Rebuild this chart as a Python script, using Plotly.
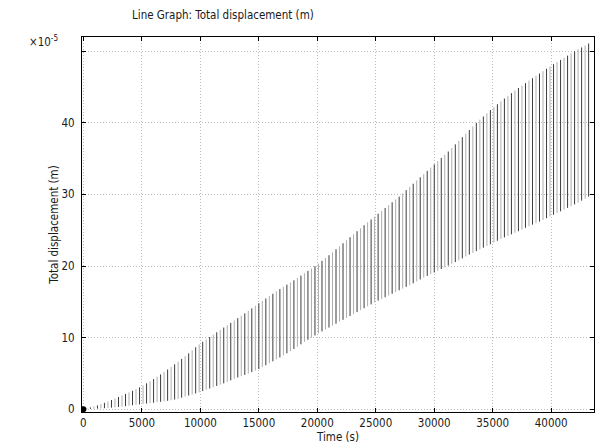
import plotly.graph_objects as go

# Sample times (s)
time_s = list(range(0, 43201, 300))

# Upper and lower envelope of total displacement at each sample (x1e-5 m)
upper_e5 = [
    0.0, 0.12, 0.24, 0.36, 0.52, 0.7, 0.88, 1.07, 1.28, 1.49,
    1.7, 1.91, 2.12, 2.33, 2.56, 2.8, 3.04, 3.3, 3.6, 3.9,
    4.2, 4.53, 4.86, 5.19, 5.54, 5.9, 6.26, 6.63, 7.02, 7.41,
    7.8, 8.22, 8.64, 9.06, 9.42, 9.75, 10.08, 10.41, 10.74, 11.07,
    11.4, 11.73, 12.06, 12.39, 12.72, 13.05, 13.38, 13.72, 14.08, 14.44,
    14.8, 15.13, 15.46, 15.79, 16.12, 16.45, 16.78, 17.1, 17.4, 17.7,
    18.0, 18.33, 18.66, 18.99, 19.32, 19.65, 19.98, 20.33, 20.72, 21.11,
    21.5, 21.92, 22.34, 22.76, 23.18, 23.6, 24.02, 24.44, 24.86, 25.28,
    25.7, 26.1, 26.5, 26.9, 27.3, 27.7, 28.1, 28.5, 28.9, 29.3,
    29.7, 30.15, 30.6, 31.05, 31.5, 31.95, 32.4, 32.85, 33.3, 33.75,
    34.2, 34.65, 35.1, 35.55, 36.0, 36.5, 37.0, 37.5, 38.0, 38.5,
    39.0, 39.5, 40.0, 40.45, 40.9, 41.35, 41.8, 42.2, 42.6, 43.0,
    43.4, 43.78, 44.16, 44.52, 44.88, 45.22, 45.56, 45.9, 46.24, 46.57,
    46.9, 47.23, 47.56, 47.89, 48.2, 48.5, 48.8, 49.1, 49.4, 49.7,
    50.0, 50.27, 50.54, 50.81, 51.1,
]
lower_e5 = [
    0.0, 0.015, 0.03, 0.045, 0.07, 0.1, 0.13, 0.165, 0.21, 0.255,
    0.3, 0.36, 0.42, 0.48, 0.54, 0.6, 0.66, 0.72, 0.78, 0.84,
    0.9, 0.96, 1.02, 1.08, 1.16, 1.25, 1.34, 1.45, 1.6, 1.75,
    1.9, 2.05, 2.2, 2.35, 2.52, 2.7, 2.88, 3.06, 3.24, 3.42,
    3.6, 3.81, 4.02, 4.23, 4.42, 4.6, 4.78, 4.97, 5.18, 5.39,
    5.6, 5.87, 6.14, 6.41, 6.68, 6.95, 7.22, 7.5, 7.8, 8.1,
    8.4, 8.73, 9.06, 9.39, 9.7, 10.0, 10.3, 10.59, 10.86, 11.13,
    11.4, 11.67, 11.94, 12.21, 12.48, 12.75, 13.02, 13.29, 13.56, 13.83,
    14.1, 14.37, 14.64, 14.91, 15.16, 15.4, 15.64, 15.88, 16.12, 16.36,
    16.6, 16.84, 17.08, 17.32, 17.58, 17.85, 18.12, 18.38, 18.62, 18.86,
    19.1, 19.34, 19.58, 19.82, 20.06, 20.3, 20.54, 20.79, 21.06, 21.33,
    21.6, 21.84, 22.08, 22.32, 22.56, 22.8, 23.04, 23.28, 23.52, 23.76,
    24.0, 24.21, 24.42, 24.63, 24.86, 25.1, 25.34, 25.57, 25.78, 25.99,
    26.2, 26.44, 26.68, 26.92, 27.16, 27.4, 27.64, 27.88, 28.12, 28.36,
    28.6, 28.87, 29.14, 29.41, 29.7,
]

x_ticks = [0, 5000, 10000, 15000, 20000, 25000, 30000, 35000, 40000]
x_ticklabels = ["0", "5000", "10000", "15000", "20000", "25000", "30000", "35000", "40000"]
y_ticks = [0, 10, 20, 30, 40, 50]
y_ticklabels = ["0", "10", "20", "30", "40", ""]

fig = go.Figure()

# Vertical oscillation segments; alternate shades to mimic the dense rendering
styles = [
    dict(color="rgba(25,25,25,0.85)", width=1),
    dict(color="rgba(120,120,120,0.6)", width=1),
]
for k, st in enumerate(styles):
    xs, ys = [], []
    for i, (t, lo, up) in enumerate(zip(time_s, lower_e5, upper_e5)):
        if i % 2 != k:
            continue
        xs += [t, t, None]
        ys += [lo, up, None]
    fig.add_trace(go.Scatter(x=xs, y=ys, mode="lines", line=st,
                             hoverinfo="skip", showlegend=False))

fig.add_trace(go.Scatter(
    x=[time_s[0]], y=[lower_e5[0]], mode="markers",
    marker=dict(color="black", size=6), showlegend=False,
))

FAM = "DejaVu Sans Condensed, DejaVu Sans, sans-serif"
tick_font = dict(family=FAM, size=11.5, color="#1a1a1a")
lab_font = dict(family=FAM, size=11.5, color="#1a1a1a")

axis_common = dict(
    showline=True, linecolor="black", linewidth=1, mirror="ticks",
    ticks="inside", ticklen=4, tickcolor="black",
    showgrid=True, gridcolor="#bdbdbd", griddash="1px,2px", gridwidth=1,
    zeroline=False, tickfont=tick_font, automargin=False,
)
fig.update_xaxes(range=[-120, 43660], tickvals=x_ticks, ticktext=x_ticklabels,
                 title=dict(text="Time (s)", font=lab_font, standoff=0), **axis_common)
fig.update_yaxes(range=[-0.4, 52], tickvals=y_ticks, ticktext=y_ticklabels,
                 ticklabelstandoff=4,
                 title=dict(text="Total displacement (m)", font=lab_font, standoff=0), **axis_common)

# The page body adds an 8px offset, so the figure is sized to compensate
OFF = 8
W, H = 603 - OFF, 444 - OFF
L, R, T, B = 82 - OFF, 9, 37 - OFF, 32
plot_w = W - L - R
plot_h = H - T - B

fig.update_layout(
    width=W, height=H,
    margin=dict(l=L, r=R, t=T, b=B),
    paper_bgcolor="white", plot_bgcolor="white",
    font=tick_font,
    annotations=[
        dict(text="Line Graph: Total displacement (m)",
             x=(223 - OFF - L) / plot_w, y=(H - (15 - OFF) - B) / plot_h,
             xanchor="center", yanchor="middle",
             xref="paper", yref="paper", showarrow=False, font=lab_font),
        dict(text="×10<sup>-5</sup>", x=0, y=1, xref="paper", yref="paper",
             xanchor="right", yanchor="middle", xshift=-22, yshift=-4,
             showarrow=False, font=tick_font),
    ],
)

fig.write_html("out.html")
